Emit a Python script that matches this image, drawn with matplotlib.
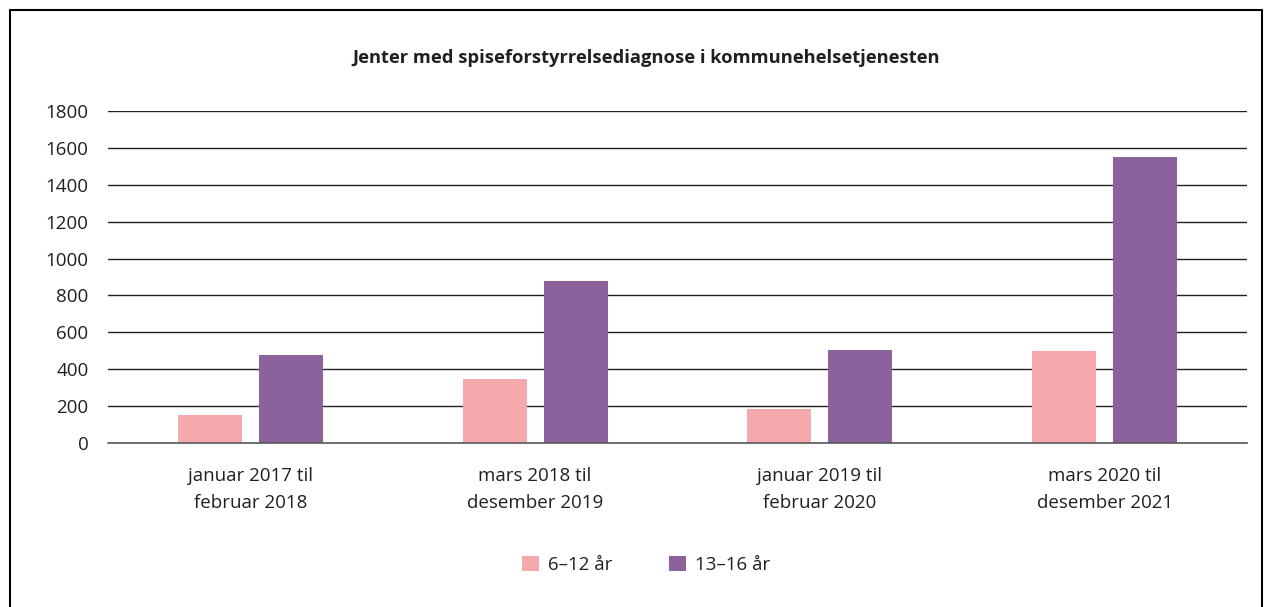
import numpy as np
import matplotlib.pyplot as plt
from matplotlib.patches import Rectangle

categories = ['januar 2017 til\nfebruar 2018', 'mars 2018 til\ndesember 2019',
              'januar 2019 til\nfebruar 2020', 'mars 2020 til\ndesember 2021']
age_6_12 = [152, 345, 183, 500]
age_13_16 = [477, 880, 504, 1551]
series_labels = ['6–12 år', '13–16 år']
colors = ['#f4a9ad', '#8c629d']
yticks = list(range(0, 1801, 200))

plt.rcParams['font.family'] = ['Open Sans', 'DejaVu Sans']

fig = plt.figure(figsize=(12.73, 6.07), dpi=100)
ax = fig.add_axes([108 / 1273, 1 - 443 / 607, (1247 - 108) / 1273, (443 - 111) / 607])

x = np.arange(len(categories))
w = 0.225
off = 0.142
ax.bar(x - off, age_6_12, w, color=colors[0], label=series_labels[0], zorder=3)
ax.bar(x + off, age_13_16, w, color=colors[1], label=series_labels[1], zorder=3)

ax.set_xlim(-0.5, len(categories) - 0.5)
ax.set_ylim(0, 1800)
ax.set_yticks(yticks)
ax.set_yticklabels([str(t) for t in yticks], fontsize=13.5, color='#231f20')
ax.set_xticks(x)
ax.set_xticklabels(categories, fontsize=13.5, color='#231f20', linespacing=1.7)
ax.tick_params(axis='both', length=0)
ax.tick_params(axis='y', pad=14)
ax.tick_params(axis='x', pad=17)
ax.grid(axis='y', color='#231f20', linewidth=1, zorder=0)
ax.axhline(0, color='#58595b', linewidth=1.2, clip_on=False, zorder=4)
for s in ax.spines.values():
    s.set_visible(False)

fig.text(646 / 1273, 1 - 58 / 607, 'Jenter med spiseforstyrrelsediagnose i kommunehelsetjenesten',
         ha='center', va='center', fontsize=13.2, fontweight='bold', color='#231f20')

fig.legend(loc='center', bbox_to_anchor=(646 / 1273, 1 - 565 / 607), ncol=2, frameon=False,
           fontsize=13.5, handlelength=0.9, handleheight=0.9, columnspacing=3.0,
           handletextpad=0.5, labelcolor='#231f20')

fig.patches.append(Rectangle((10 / 1273, -0.1), (1262 - 10) / 1273, 1.1 - 10 / 607,
                             transform=fig.transFigure, fill=False, edgecolor='black',
                             linewidth=1.5))

fig.savefig('out.png', dpi=100)
